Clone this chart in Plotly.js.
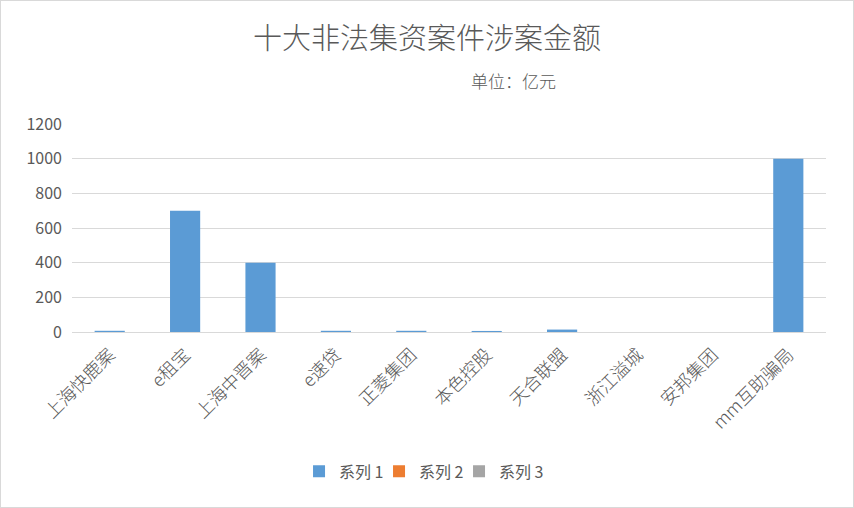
<!DOCTYPE html>
<html><head><meta charset="utf-8">
<script src="https://cdn.plot.ly/plotly-3.0.1.min.js"></script>
<style>
html,body{margin:0;padding:0;background:#fff;}
#chart{width:852px;height:506px;border:1px solid #d9d9d9;}
</style></head>
<body><div id="chart"></div>
<script>
const categories = ['上海快鹿案','e租宝','上海中晋案','e速贷','正菱集团','本色控股','天合联盟','浙江溢城','安邦集团','mm互助骗局'];
const series1 = [7, 700, 400, 7, 7, 6, 14, 0, 0, 1000];
const series2 = [null,null,null,null,null,null,null,null,null,null];
const series3 = [null,null,null,null,null,null,null,null,null,null];
const seriesNames = ['系列 1','系列 2','系列 3'];
const yTicks = [0,200,400,600,800,1000,1200];

const font = "'Noto Sans CJK SC', 'Noto Sans', sans-serif";
const traces = [
  {type:'bar', x:categories, y:series1, name:seriesNames[0], marker:{color:'#5b9bd5'}, width:0.4, legend:'legend'},
  {type:'bar', x:categories, y:series2, name:seriesNames[1], marker:{color:'#ed7d31'}, width:0.4, legend:'legend2'},
  {type:'bar', x:categories, y:series3, name:seriesNames[2], marker:{color:'#a5a5a5'}, width:0.4, legend:'legend3'}
];
function leg(x){
  return {orientation:'h', x:x, xanchor:'left', y:-0.67, yanchor:'middle', font:{family:font, size:16, color:'#595959'}, itemwidth:30, bgcolor:'rgba(0,0,0,0)'};
}
const layout = {
  width:852, height:506,
  margin:{l:71, r:27, t:123, b:175},
  paper_bgcolor:'#fff', plot_bgcolor:'#fff',
  barmode:'overlay',
  font:{family:font, color:'#595959', size:16},
  title:{text:'十大非法集资案件涉案金额', x:0.5, xanchor:'center', y:0.925, yanchor:'middle', font:{family:font, size:29, color:'#595959', weight:300}},
  annotations:[{text:'单位：亿元', xref:'paper', yref:'paper', x:0.585, y:1.0+ (123-79)/208, xanchor:'center', yanchor:'middle', showarrow:false, font:{family:font, size:17, color:'#595959', weight:300}}],
  xaxis:{type:'category', tickangle:-45, showgrid:false, showline:true, linecolor:'#d9d9d9', linewidth:1, ticks:'', tickfont:{family:font, size:18, color:'#595959', weight:300}, ticklabelstandoff:4},
  yaxis:{range:[0,1200], tickvals:yTicks, showgrid:true, gridcolor:'#d9d9d9', zeroline:false, showline:false, ticks:'', tickfont:{family:font, size:16, color:'#595959'}, ticklabelstandoff:9},
  showlegend:true,
  legend:leg(0.3011),
  legend2:leg(0.4072),
  legend3:leg(0.5133)
};
Plotly.newPlot('chart', traces, layout, {displayModeBar:false, staticPlot:true});
</script></body></html>
